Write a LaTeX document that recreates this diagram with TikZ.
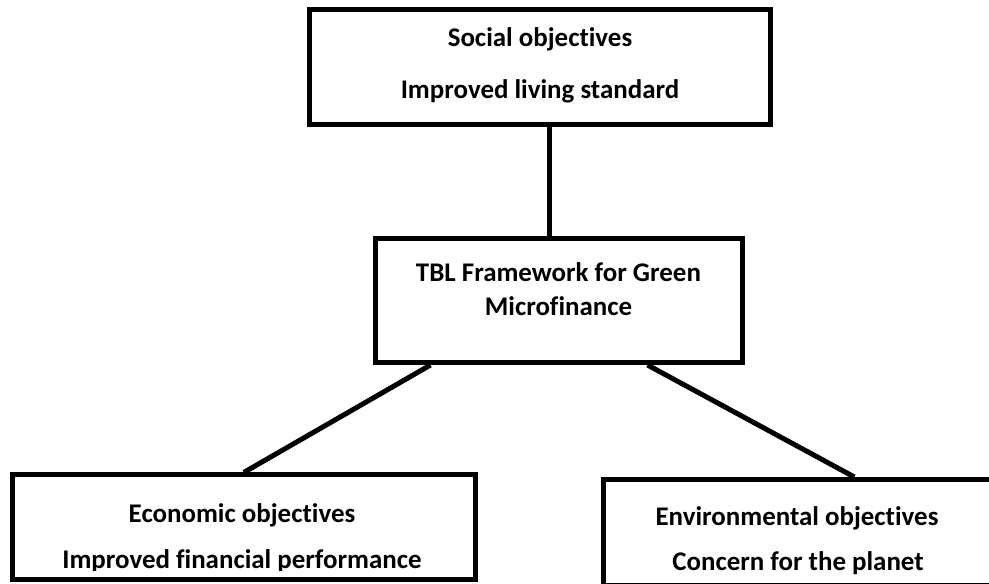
\documentclass[tikz,border=0pt]{standalone}
\usepackage{fontspec}
\setmainfont{Carlito}[Ligatures=NoCommon]
\begin{document}
\begin{tikzpicture}[x=.75pt, y=-.75pt, line join=miter,
	box/.style={draw, rectangle, line width=3.75pt, inner sep=0pt},
	link/.style={line width=3.75pt},
	txt/.style={anchor=base, inner sep=0pt, font=\fontsize{20.2}{24}\selectfont\bfseries}]
	\fill[white] (0,0) rectangle (989,584);
	\useasboundingbox (0,0) rectangle (989,584);
	\clip (0,0) rectangle (989,584);
	% boxes
	\node[box, minimum width=346.1pt, minimum height=85.9pt] (social) at (540.25,66.75) {};
	\node[box, minimum width=275.25pt, minimum height=93pt] (tbl) at (558.5,300.5) {};
	\node[box, minimum width=347.6pt, minimum height=78.4pt] (econ) at (243.75,527.25) {};
	\node[box, minimum width=291pt, minimum height=79.5pt] (env) at (797.5,532.5) {};
	% texts
	\node[txt] (socialA) at (540,47) {Social objectives};
	\node[txt] (socialB) at (540,99) {Improved living standard};
	\node[txt] (tblA) at (558.5,282) {TBL Framework for Green};
	\node[txt] (tblB) at (558.5,316) {Microfinance};
	\node[txt] (econA) at (242,522) {Economic objectives};
	\begin{scope}
		\clip (econ.north west) rectangle ([yshift=8.5pt]econ.south east);
		\node[txt] (econB) at (242,568) {Improved financial performance};
	\end{scope}
	\node[txt] (envA) at (797,525) {Environmental objectives};
	\node[txt] (envB) at (798,570) {Concern for the planet};
	% links
	\draw[link] ([xshift=-7.1pt]tbl.north) -- ([xshift=-7.1pt]tbl.north |- social.south);
	\draw[link] ([xshift=43.5pt]tbl.south west) -- (econ.north);
	\draw[link] ([xshift=-72.75pt]tbl.south east) -- ([xshift=190pt]env.north west);
\end{tikzpicture}
\end{document}
